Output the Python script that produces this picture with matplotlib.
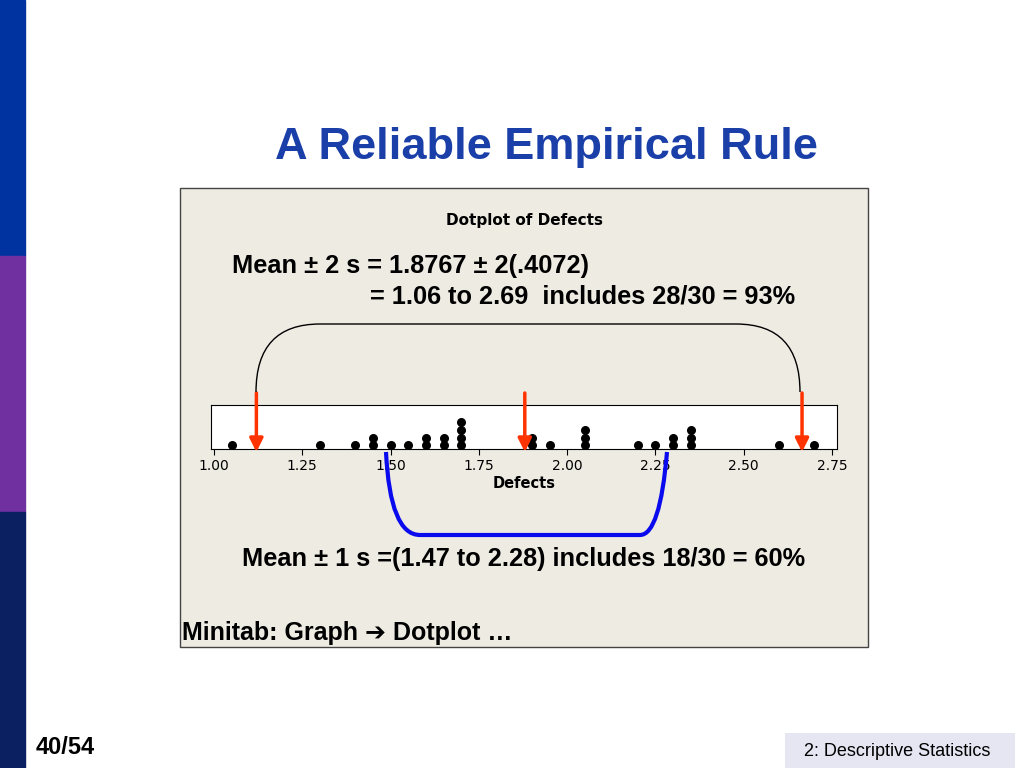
import matplotlib.pyplot as plt
from matplotlib.patches import Rectangle, FancyArrowPatch
from matplotlib.path import Path
from matplotlib.patches import PathPatch

defects = [1.05, 1.30, 1.40, 1.45, 1.50, 1.55, 1.60, 1.65, 1.70, 1.90, 1.95,
           2.05, 2.20, 2.25, 2.30, 2.35, 2.60, 2.70]
counts = [1, 1, 1, 2, 1, 1, 2, 2, 4, 2, 1, 3, 1, 1, 2, 3, 1, 1]
ticks = [1.00, 1.25, 1.50, 1.75, 2.00, 2.25, 2.50, 2.75]
arrow_vals = [1.12, 1.88, 2.665]

fig = plt.figure(figsize=(10.24, 7.68), dpi=100)
W, H = 1024, 768

# background in pixel coordinates
bg = fig.add_axes([0, 0, 1, 1], zorder=0)
bg.set_xlim(0, W)
bg.set_ylim(H, 0)
bg.axis('off')

bg.add_patch(Rectangle((0, 0), 25, 256, color='#0033a0'))
bg.add_patch(Rectangle((0, 256), 25, 256, color='#7030a0'))
bg.add_patch(Rectangle((0, 512), 25, 256, color='#0a2060'))
bg.add_patch(Rectangle((180, 188), 688, 459, facecolor='#eeebe3', edgecolor='#444444', lw=1))
bg.add_patch(Rectangle((785, 733), 230, 35, facecolor='#e6e6f2', edgecolor='none'))

bg.text(546, 148, 'A Reliable Empirical Rule', ha='center', va='center',
        fontsize=32.5, fontweight='bold', color='#1a3fa8', family='Liberation Sans')
bg.text(524, 221, 'Dotplot of Defects', ha='center', va='center', fontsize=11, fontweight='bold')
bg.text(232, 266, 'Mean \u00b1 2 s = 1.8767 \u00b1 2(.4072)', ha='left', va='center',
        fontsize=18.3, fontweight='bold', family='Liberation Sans')
bg.text(370, 296, '= 1.06 to 2.69  includes 28/30 = 93%', ha='left', va='center',
        fontsize=18.3, fontweight='bold', family='Liberation Sans')
bg.text(524, 559, 'Mean \u00b1 1 s =(1.47 to 2.28) includes 18/30 = 60%', ha='center', va='center',
        fontsize=18.3, fontweight='bold', family='Liberation Sans')
bg.text(182, 633, 'Minitab: Graph \u2794 Dotplot \u2026', ha='left', va='center',
        fontsize=18, fontweight='bold', family=['Liberation Sans', 'DejaVu Sans'])
bg.text(36, 748, '40/54', ha='left', va='center', fontsize=17, fontweight='bold',
        family='Liberation Sans')
bg.text(897, 751, '2: Descriptive Statistics', ha='center', va='center', fontsize=13,
        family='Liberation Sans')

# dotplot axes
x0, x1, y0, y1 = 211, 837, 405, 449
ax = fig.add_axes([x0 / W, 1 - y1 / H, (x1 - x0) / W, (y1 - y0) / H], zorder=1)
ax.set_facecolor('white')
for v, c in zip(defects, counts):
    ax.scatter([v] * c, range(c), s=30, color='black', zorder=3)
ax.set_xlim(0.9915, 2.764)
ax.set_ylim(-0.5, 5.3)
ax.set_yticks([])
ax.set_xticks(ticks)
ax.set_xticklabels(['%.2f' % t for t in ticks], fontsize=10)
ax.set_xlabel('Defects', fontsize=10.5, fontweight='bold', labelpad=2)
ax.tick_params(axis='x', length=4)

# overlay on top for arrows and brackets
ov = fig.add_axes([0, 0, 1, 1], zorder=2)
ov.set_xlim(0, W)
ov.set_ylim(H, 0)
ov.axis('off')
ov.patch.set_alpha(0)

def px(v):
    return x0 + (v - 0.9915) / (2.764 - 0.9915) * (x1 - x0)

# red arrows
for v in arrow_vals:
    ov.add_patch(FancyArrowPatch((px(v), 393), (px(v), 452), arrowstyle='-|>',
                                 mutation_scale=20, color='#ff3300', lw=2.5,
                                 shrinkA=0, shrinkB=0))

# black bracket
verts = [(256, 392), (256, 324), (320, 324), (736, 324), (800, 324), (800, 392)]
codes = [Path.MOVETO, Path.CURVE3, Path.CURVE3, Path.LINETO, Path.CURVE3, Path.CURVE3]
ov.add_patch(PathPatch(Path(verts, codes), fill=False, lw=1, color='black'))

# blue bracket
verts = [(386, 452), (390, 535), (420, 535), (640, 535), (660, 535), (667, 452)]
codes = [Path.MOVETO, Path.CURVE3, Path.CURVE3, Path.LINETO, Path.CURVE3, Path.CURVE3]
ov.add_patch(PathPatch(Path(verts, codes), fill=False, lw=3, color='#0a0aee'))

fig.savefig('out.png', dpi=100)
